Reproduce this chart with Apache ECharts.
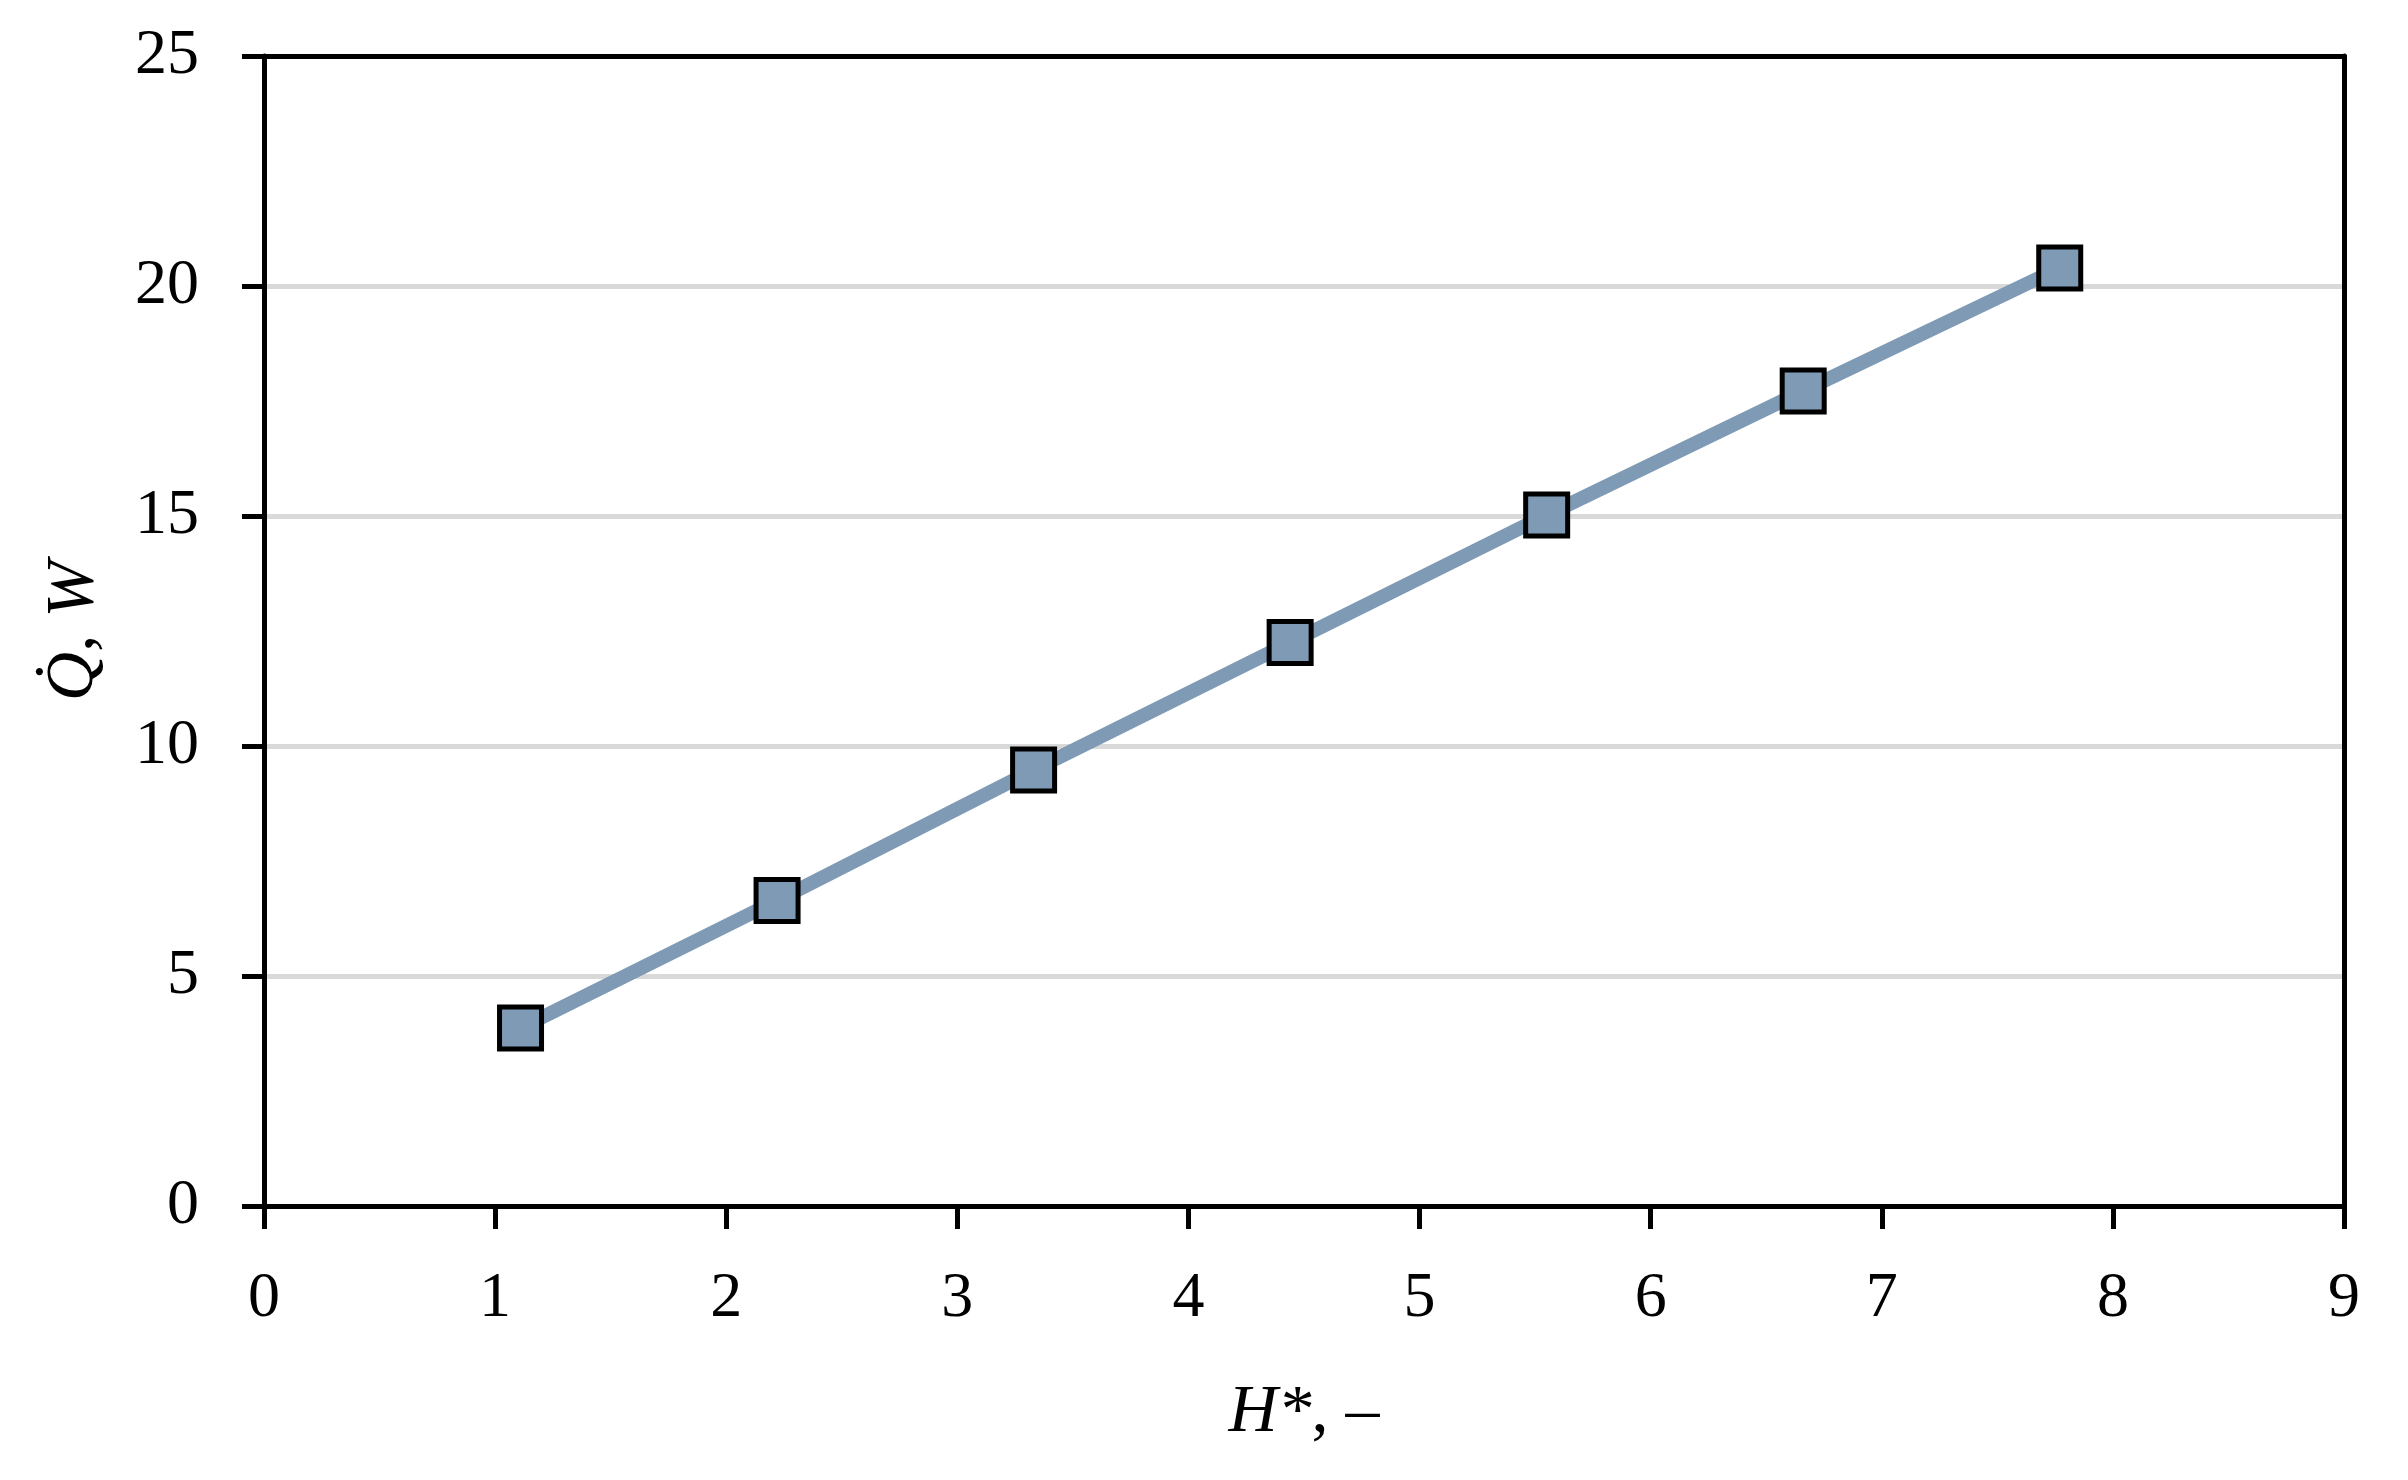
<!DOCTYPE html>
<html>
<head>
<meta charset="utf-8">
<script src="https://cdn.jsdelivr.net/npm/echarts@6/dist/echarts.min.js"></script>
<style>
html,body{margin:0;padding:0;background:#fff;}
#chart{width:2408px;height:1480px;}
</style>
</head>
<body>
<div id="chart"></div>
<script>
const hValues = [1.11, 2.22, 3.33, 4.44, 5.55, 6.66, 7.77];
const qValues = [3.87, 6.64, 9.48, 12.25, 15.02, 17.72, 20.39];
const xTicks = [0, 1, 2, 3, 4, 5, 6, 7, 8, 9];
const yTicks = [0, 5, 10, 15, 20, 25];

const FONT = '"Liberation Serif", "DejaVu Serif", serif';
const data = hValues.map((h, i) => [h, qValues[i]]);

const chart = echarts.init(document.getElementById('chart'), null, {renderer: 'canvas'});
chart.setOption({
  backgroundColor: '#fff',
  animation: false,
  grid: {left: 264, right: 64, top: 56, bottom: 274, containLabel: false},
  xAxis: [{
    type: 'value', min: xTicks[0], max: xTicks[xTicks.length - 1], interval: 1,
    name: '{i|H*}, –', nameLocation: 'middle', nameGap: 173,
    nameTextStyle: {fontFamily: FONT, fontSize: 68, color: '#000',
      rich: {i: {fontFamily: FONT, fontSize: 68, fontStyle: 'italic', color: '#000'}}},
    axisLine: {show: true, onZero: false, lineStyle: {color: '#000', width: 5}},
    axisTick: {show: true, length: 23, lineStyle: {color: '#000', width: 5}},
    axisLabel: {fontFamily: FONT, fontSize: 64, color: '#000', margin: 61},
    splitLine: {show: false}
  }, {
    type: 'value', position: 'top', min: 0, max: 9, interval: 1,
    axisLine: {show: true, onZero: false, lineStyle: {color: '#000', width: 5}},
    axisTick: {show: false}, axisLabel: {show: false}, splitLine: {show: false}
  }],
  yAxis: [{
    type: 'value', min: yTicks[0], max: yTicks[yTicks.length - 1], interval: 5,
    name: '{i|Q̇}, {i|W}', nameLocation: 'middle', nameGap: 156,
    nameTextStyle: {fontFamily: FONT, fontSize: 68, color: '#000',
      rich: {i: {fontFamily: FONT, fontSize: 68, fontStyle: 'italic', color: '#000'}}},
    axisLine: {show: true, onZero: false, lineStyle: {color: '#000', width: 5}},
    axisTick: {show: true, length: 22, lineStyle: {color: '#000', width: 5}},
    axisLabel: {fontFamily: FONT, fontSize: 64, color: '#000', margin: 65},
    splitLine: {show: true, showMinLine: false, showMaxLine: false, lineStyle: {color: '#d9d9d9', width: 5}}
  }, {
    type: 'value', position: 'right', min: 0, max: 25, interval: 5,
    axisLine: {show: true, onZero: false, lineStyle: {color: '#000', width: 5}},
    axisTick: {show: false}, axisLabel: {show: false}, splitLine: {show: false}
  }],
  series: [{
    type: 'line',
    data: data,
    xAxisIndex: 0, yAxisIndex: 0,
    lineStyle: {color: '#7f9ab4', width: 14},
    symbol: 'rect', symbolSize: 42,
    itemStyle: {color: '#7f9ab4', borderColor: '#000', borderWidth: 5},
    z: 3
  }]
});
</script>
</body>
</html>
